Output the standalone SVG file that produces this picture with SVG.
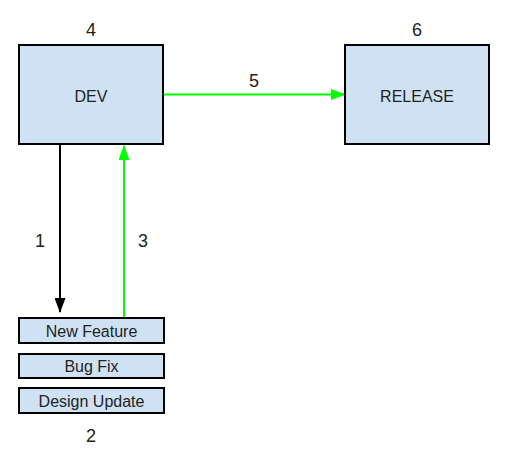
<svg xmlns="http://www.w3.org/2000/svg" width="513" height="464" viewBox="0 0 513 464">
<style>
.box{fill:#cfe2f3;stroke:#000;stroke-width:2}
.t{font-family:"Liberation Sans",Arial,sans-serif;fill:#222;text-anchor:middle}
</style>
<defs>
<marker id="ab" markerWidth="15" markerHeight="11" refX="14" refY="5.500" orient="auto" markerUnits="userSpaceOnUse" viewBox="0 0 15 11"><path d="M0,0 L15,5.500 L0,11 z" fill="#000"/></marker>
<marker id="ag" markerWidth="15" markerHeight="11" refX="14" refY="5.500" orient="auto" markerUnits="userSpaceOnUse" viewBox="0 0 15 11"><path d="M0,0 L15,5.500 L0,11 z" fill="#00ff00"/></marker>
</defs>
<rect width="513" height="464" fill="#fff"/>
<g id="connectors">
<line x1="60" y1="145" x2="60" y2="312" stroke="#000" stroke-width="2" marker-end="url(#ab)"/>
<line x1="124" y1="318" x2="124" y2="146" stroke="#00ff00" stroke-width="2" marker-end="url(#ag)"/>
<line x1="164" y1="94.500" x2="345" y2="94.500" stroke="#00ff00" stroke-width="2" marker-end="url(#ag)"/>
<text class="t" font-size="18" x="40" y="247">1</text>
<text class="t" font-size="18" x="143" y="247">3</text>
<text class="t" font-size="18" x="254" y="87">5</text>
</g>
<g id="dev">
<rect class="box" x="19" y="45" width="144" height="99"/>
<text class="t" font-size="16" x="91" y="101.500">DEV</text>
<text class="t" font-size="18" x="91" y="36">4</text>
</g>
<g id="release">
<rect class="box" x="345" y="45" width="144" height="99"/>
<text class="t" font-size="16" x="417" y="101.500">RELEASE</text>
<text class="t" font-size="18" x="417" y="36">6</text>
</g>
<g id="new-feature">
<rect class="box" x="19" y="318" width="145" height="25"/>
<text class="t" font-size="16" x="91.500" y="336.500">New Feature</text>
</g>
<g id="bug-fix">
<rect class="box" x="19" y="354" width="145" height="24"/>
<text class="t" font-size="16" x="91.500" y="371.500">Bug Fix</text>
</g>
<g id="design-update">
<rect class="box" x="19" y="388" width="145" height="25"/>
<text class="t" font-size="16" x="91.500" y="406.500">Design Update</text>
</g>
<text class="t" font-size="18" x="91" y="442">2</text>
</svg>
